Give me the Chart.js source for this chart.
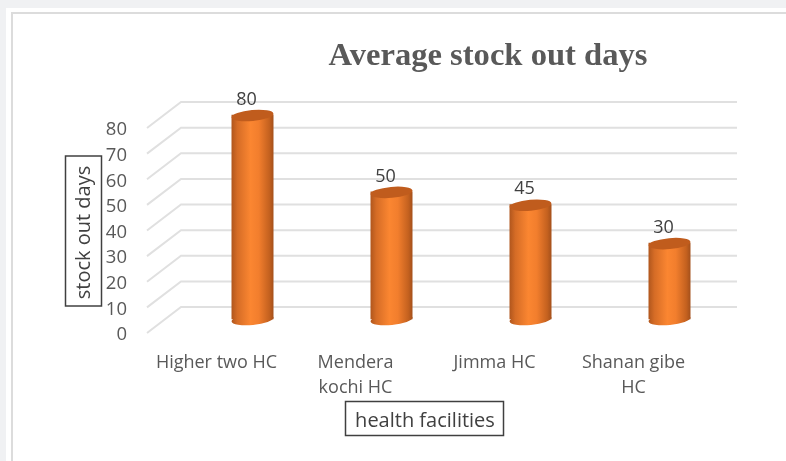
<!DOCTYPE html>
<html>
<head>
<meta charset="utf-8">
<script src="https://cdn.jsdelivr.net/npm/chart.js@4"></script>
<style>
html, body { margin: 0; height: 100%; overflow: hidden; background: #f0f1f3; }
.page { position: absolute; left: 6px; top: 8px; right: 0; bottom: 0; background: #fff; }
.frame { position: absolute; left: 5px; top: 4px; right: 0; bottom: 0; border-left: 2px solid #dcdcdc; border-top: 2px solid #dcdcdc; }
canvas { position: absolute; left: 0; top: 0; }
</style>
</head>
<body>
<div class="page"><div class="frame"></div></div>
<canvas id="chart" width="786" height="461"></canvas>
<script>
const categories = [['Higher two HC'], ['Mendera', 'kochi HC'], ['Jimma HC'], ['Shanan gibe', 'HC']];
const stockOutDays = [80, 50, 45, 30];
const yTicks = [0, 10, 20, 30, 40, 50, 60, 70, 80];

const depthX = 36;
const depthY = -15.5;
const gridLift = 2; // tick labels sit a little under the line ends
const barWidth = 42;

function barGradient(c, x) {
    const g = c.createLinearGradient(x - barWidth / 2, 0, x + barWidth / 2, 0);
    g.addColorStop(0, '#b0561d');
    g.addColorStop(0.14, '#d56c26');
    g.addColorStop(0.45, '#fb8631');
    g.addColorStop(0.65, '#f27e2d');
    g.addColorStop(0.9, '#c4611f');
    g.addColorStop(1, '#a4501b');
    return g;
}

const wallGrid = {
    id: 'wallGrid',
    afterLayout(chart) {
        // title sits over the plot, not over the whole box
        chart.titleBlock.left = 179;
        chart.titleBlock.right = 797;
    },
    // back walls and the slanted floor lines, taken from the y scale
    beforeDatasetsDraw(chart) {
        const c = chart.ctx;
        const { left, right } = chart.chartArea;
        c.save();
        c.strokeStyle = '#e0e0e0';
        c.lineWidth = 2;
        yTicks.forEach((v) => {
            const y = chart.scales.y.getPixelForValue(v) - gridLift;
            c.beginPath();
            c.moveTo(left, y);
            c.lineTo(left + 34, y - 26);
            c.lineTo(right + 34, y - 26);
            c.stroke();
        });
        c.restore();
    },
    beforeDatasetDraw(chart) {
        const c = chart.ctx;
        const meta = chart.getDatasetMeta(0);
        c.save();
        c.translate(depthX, depthY);
        // bottom of each cylinder goes under the bar
        meta.data.forEach((bar) => {
            c.fillStyle = barGradient(c, bar.x);
            c.beginPath();
            c.ellipse(bar.x, bar.base, barWidth / 2, 5.5, -0.09, 0, Math.PI * 2);
            c.fill();
        });
    },
    afterDatasetDraw(chart) {
        const c = chart.ctx;
        const meta = chart.getDatasetMeta(0);
        meta.data.forEach((bar) => {
            c.fillStyle = '#c05c1d';
            c.beginPath();
            c.ellipse(bar.x, bar.y + 1, barWidth / 2, 5.5, -0.09, 0, Math.PI * 2);
            c.fill();
        });
        c.restore();
        // value labels
        c.save();
        c.font = '18px "Open Sans"';
        c.fillStyle = '#404040';
        c.textAlign = 'center';
        c.textBaseline = 'middle';
        meta.data.forEach((bar, i) => {
            c.fillText(stockOutDays[i], bar.x + depthX - 6, bar.y + depthY - 15);
        });
        c.restore();
    },
    afterDraw(chart) {
        const c = chart.ctx;
        c.save();
        c.strokeStyle = '#404040';
        c.lineWidth = 1.5;
        c.strokeRect(65.5, 156, 36, 150);
        c.strokeRect(345.5, 401.5, 158, 34);
        c.restore();
    },
};

new Chart(document.getElementById('chart').getContext('2d'), {
    type: 'bar',
    data: {
        labels: categories,
        datasets: [{
            label: 'stock out days',
            data: stockOutDays,
            backgroundColor: (ctx) => {
                const chart = ctx.chart;
                if (!chart.chartArea || ctx.dataIndex === undefined) return '#ed7d31';
                return barGradient(chart.ctx, chart.scales.x.getPixelForValue(ctx.dataIndex));
            },
            borderWidth: 0,
            barPercentage: 0.302,
            categoryPercentage: 1,
        }],
    },
    plugins: [wallGrid],
    options: {
        responsive: false,
        animation: false,
        layout: { padding: { left: 64, right: 83, top: 0, bottom: 25 } },
        plugins: {
            legend: { display: false },
            tooltip: { enabled: false },
            title: {
                display: true,
                text: 'Average stock out days',
                color: '#595959',
                font: { family: '"Liberation Serif"', size: 32.6, weight: 'bold' },
                padding: { top: 37, bottom: 53.9 },
            },
        },
        scales: {
            x: {
                grid: { display: false },
                border: { display: false },
                afterFit: (scale) => { scale.height = 101; },
                ticks: {
                    autoSkip: false,
                    maxRotation: 0,
                    padding: 7,
                    color: '#595959',
                    font: { family: '"Open Sans"', size: 18, lineHeight: 1.39 },
                },
                title: {
                    display: true,
                    text: 'health facilities',
                    color: '#404040',
                    font: { family: '"Open Sans"', size: 20 },
                    padding: { top: 0, bottom: 2.5 },
                },
            },
            y: {
                min: 0,
                max: 80,
                grid: { display: false },
                border: { display: false },
                afterFit: (scale) => { scale.width = 83; },
                ticks: {
                    stepSize: 10,
                    padding: 12,
                    color: '#595959',
                    font: { family: '"Open Sans"', size: 18.5 },
                },
                title: {
                    display: true,
                    text: 'stock out days',
                    color: '#404040',
                    font: { family: '"Open Sans"', size: 20 },
                    padding: { top: 8, bottom: 0 },
                },
            },
        },
    },
});
</script>
</body>
</html>
